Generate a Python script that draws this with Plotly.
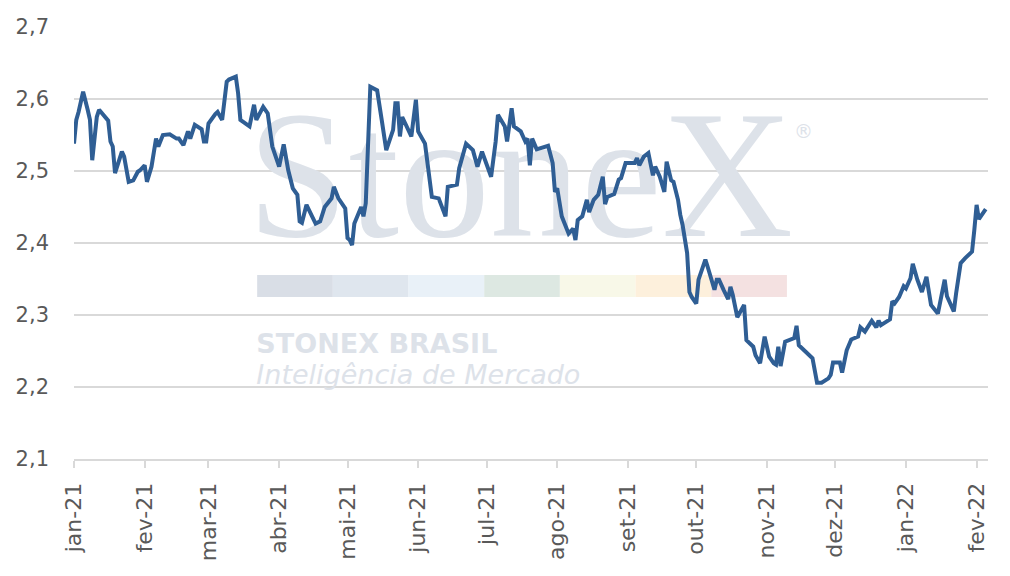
import plotly.graph_objects as go

dates = [
    "2021-01-01","2021-01-02","2021-01-03","2021-01-05","2021-01-07","2021-01-08","2021-01-09","2021-01-11",
    "2021-01-12","2021-01-15","2021-01-16","2021-01-17","2021-01-18","2021-01-19","2021-01-22","2021-01-23",
    "2021-01-25","2021-01-27","2021-01-29","2021-01-30","2021-02-01","2021-02-02","2021-02-04","2021-02-06",
    "2021-02-07","2021-02-09","2021-02-12","2021-02-15","2021-02-16","2021-02-18","2021-02-20","2021-02-21",
    "2021-02-23","2021-02-26","2021-02-27","2021-02-28","2021-03-01","2021-03-04","2021-03-05","2021-03-07",
    "2021-03-09","2021-03-10","2021-03-13","2021-03-14","2021-03-15","2021-03-19","2021-03-21","2021-03-22",
    "2021-03-25","2021-03-27","2021-03-29","2021-04-01","2021-04-03","2021-04-05","2021-04-07","2021-04-09",
    "2021-04-10","2021-04-11","2021-04-13","2021-04-17","2021-04-19","2021-04-21","2021-04-24","2021-04-25",
    "2021-04-27","2021-04-30","2021-05-01","2021-05-02","2021-05-03","2021-05-04","2021-05-07","2021-05-08",
    "2021-05-09","2021-05-11","2021-05-14","2021-05-16","2021-05-18","2021-05-21","2021-05-22","2021-05-23",
    "2021-05-24","2021-05-25","2021-05-29","2021-05-31","2021-06-01","2021-06-04","2021-06-07","2021-06-10",
    "2021-06-13","2021-06-14","2021-06-18","2021-06-19","2021-06-22","2021-06-25","2021-06-27","2021-06-29",
    "2021-07-03","2021-07-05","2021-07-06","2021-07-09","2021-07-10","2021-07-12","2021-07-13","2021-07-16",
    "2021-07-18","2021-07-19","2021-07-20","2021-07-21","2021-07-23","2021-07-28","2021-07-30","2021-07-31",
    "2021-08-01","2021-08-03","2021-08-06","2021-08-08","2021-08-09","2021-08-10","2021-08-12","2021-08-14",
    "2021-08-15","2021-08-17","2021-08-19","2021-08-21","2021-08-22","2021-08-23","2021-08-26","2021-08-28",
    "2021-08-29","2021-08-31","2021-09-04","2021-09-05","2021-09-06","2021-09-08","2021-09-10","2021-09-12",
    "2021-09-13","2021-09-15","2021-09-17","2021-09-18","2021-09-20","2021-09-21","2021-09-23","2021-09-24",
    "2021-09-25","2021-09-27","2021-09-28","2021-09-29","2021-10-01","2021-10-02","2021-10-05","2021-10-06",
    "2021-10-09","2021-10-10","2021-10-11","2021-10-13","2021-10-15","2021-10-16","2021-10-17","2021-10-19",
    "2021-10-22","2021-10-23","2021-10-26","2021-10-27","2021-10-29","2021-10-31","2021-11-02","2021-11-04",
    "2021-11-05","2021-11-06","2021-11-07","2021-11-09","2021-11-13","2021-11-14","2021-11-15","2021-11-18",
    "2021-11-21","2021-11-23","2021-11-25","2021-11-28","2021-11-29","2021-11-30","2021-12-03","2021-12-04",
    "2021-12-06","2021-12-08","2021-12-11","2021-12-12","2021-12-14","2021-12-17","2021-12-19","2021-12-20",
    "2021-12-21","2021-12-25","2021-12-26","2021-12-27","2021-12-29","2021-12-31","2022-01-01","2022-01-03",
    "2022-01-04","2022-01-06","2022-01-08","2022-01-10","2022-01-11","2022-01-12","2022-01-15","2022-01-18",
    "2022-01-19","2022-01-22","2022-01-23","2022-01-25","2022-01-27","2022-01-30","2022-01-31","2022-02-01",
    "2022-02-02","2022-02-05",
]

prices = [
    2.538,2.571,2.582,2.610,2.585,2.571,2.515,2.575,
    2.585,2.575,2.570,2.541,2.534,2.497,2.527,2.520,
    2.485,2.487,2.499,2.501,2.508,2.485,2.506,2.545,
    2.534,2.550,2.551,2.545,2.545,2.536,2.555,2.545,
    2.564,2.558,2.541,2.541,2.566,2.579,2.582,2.571,
    2.624,2.627,2.631,2.608,2.571,2.562,2.592,2.571,
    2.589,2.580,2.534,2.506,2.537,2.501,2.476,2.467,
    2.430,2.428,2.453,2.427,2.430,2.450,2.462,2.478,
    2.462,2.448,2.407,2.404,2.397,2.427,2.450,2.437,
    2.455,2.617,2.612,2.571,2.529,2.557,2.594,2.594,
    2.548,2.575,2.548,2.599,2.555,2.538,2.464,2.462,
    2.437,2.478,2.481,2.504,2.538,2.529,2.506,2.527,
    2.492,2.541,2.578,2.562,2.541,2.587,2.562,2.555,
    2.541,2.545,2.508,2.545,2.530,2.535,2.511,2.471,
    2.476,2.437,2.413,2.420,2.404,2.432,2.437,2.460,
    2.443,2.460,2.467,2.492,2.454,2.464,2.468,2.488,
    2.490,2.511,2.511,2.518,2.508,2.520,2.525,2.494,
    2.506,2.492,2.471,2.513,2.487,2.485,2.460,2.439,
    2.425,2.386,2.332,2.325,2.316,2.349,2.377,2.367,
    2.335,2.349,2.349,2.335,2.322,2.339,2.328,2.297,
    2.314,2.265,2.256,2.244,2.233,2.270,2.242,2.233,
    2.231,2.256,2.229,2.263,2.268,2.285,2.258,2.249,
    2.240,2.206,2.206,2.212,2.217,2.234,2.234,2.220,
    2.251,2.266,2.270,2.283,2.277,2.292,2.283,2.292,
    2.286,2.294,2.319,2.316,2.325,2.340,2.337,2.351,
    2.371,2.349,2.332,2.353,2.335,2.314,2.302,2.349,
    2.326,2.305,2.330,2.372,2.379,2.388,2.418,2.453,
    2.433,2.447,
]

tick_dates = ["2021-01-01","2021-02-01","2021-03-01","2021-04-01","2021-05-01","2021-06-01","2021-07-01",
              "2021-08-01","2021-09-01","2021-10-01","2021-11-01","2021-12-01","2022-01-01","2022-02-01"]
tick_labels = ["jan-21","fev-21","mar-21","abr-21","mai-21","jun-21","jul-21",
               "ago-21","set-21","out-21","nov-21","dez-21","jan-22","fev-22"]
y_ticks = [2.1, 2.2, 2.3, 2.4, 2.5, 2.6, 2.7]

band_colors = ["#d9dee6", "#dfe6ee", "#e9f1f8", "#dde8e2", "#f8f8e8", "#fdf0dc", "#f4e1e1"]

WM = "#dde2e9"
LABEL = "#595959"
GRID = "#d9d9d9"

fig = go.Figure()

# watermark (drawn first so the series line sits on top)
fig.add_trace(go.Scatter(
    x=["2021-07-15 19:00"], y=[2.4735], mode="text", text=["StoneX"],
    textposition="middle center",
    textfont=dict(family="Liberation Serif", size=182, color=WM),
    hoverinfo="skip", showlegend=False, cliponaxis=False))
fig.add_trace(go.Scatter(
    x=["2021-11-17"], y=[2.552], mode="text", text=["®"],
    textposition="middle center",
    textfont=dict(family="DejaVu Sans", size=19, color=WM),
    hoverinfo="skip", showlegend=False, cliponaxis=False))
fig.add_trace(go.Scatter(
    x=["2021-03-22"], y=[2.2569], mode="text", text=["STONEX BRASIL"],
    textposition="middle right",
    textfont=dict(family="DejaVu Sans", size=27, color=WM, weight="bold"),
    hoverinfo="skip", showlegend=False, cliponaxis=False))
fig.add_trace(go.Scatter(
    x=["2021-03-22"], y=[2.2132], mode="text", text=["Inteligência de Mercado"],
    textposition="middle right",
    textfont=dict(family="DejaVu Sans", size=27, color=WM, style="italic", weight=300),
    hoverinfo="skip", showlegend=False, cliponaxis=False))

for i, c in enumerate(band_colors):
    x0 = 0.2004 + i * 0.0828
    fig.add_shape(type="rect", xref="paper", yref="paper",
                  x0=x0, x1=x0 + 0.0828, y0=0.375, y1=0.426,
                  fillcolor=c, line=dict(width=0), layer="between")

fig.add_trace(go.Scatter(
    x=dates, y=prices, mode="lines",
    line=dict(color="#2f5e94", width=4),
    showlegend=False))

fig.update_layout(
    width=1010, height=576,
    margin=dict(l=66, r=30, t=19, b=125),
    paper_bgcolor="white", plot_bgcolor="white",
    separators=",.",
    font=dict(family="DejaVu Sans", color=LABEL),
)

fig.update_xaxes(
    type="date", range=["2021-01-01", "2022-02-06"],
    tickvals=tick_dates, ticktext=tick_labels, tickangle=-90,
    tickfont=dict(size=22, color=LABEL, family="DejaVu Sans"),
    showgrid=False, zeroline=False, automargin=False,
    showline=True, linecolor=GRID, linewidth=2,
    ticks="outside", ticklen=7, tickwidth=1.5, tickcolor=GRID,
    ticklabelstandoff=6,
)
fig.update_yaxes(
    range=[2.1, 2.7], tickvals=y_ticks, tickformat=".1f",
    tickfont=dict(size=21, color=LABEL, family="DejaVu Sans"),
    showgrid=True, gridcolor=GRID, gridwidth=2,
    zeroline=False, showline=False, ticks="", automargin=False,
    ticklabelstandoff=24,
)

fig.write_html("out.html")
